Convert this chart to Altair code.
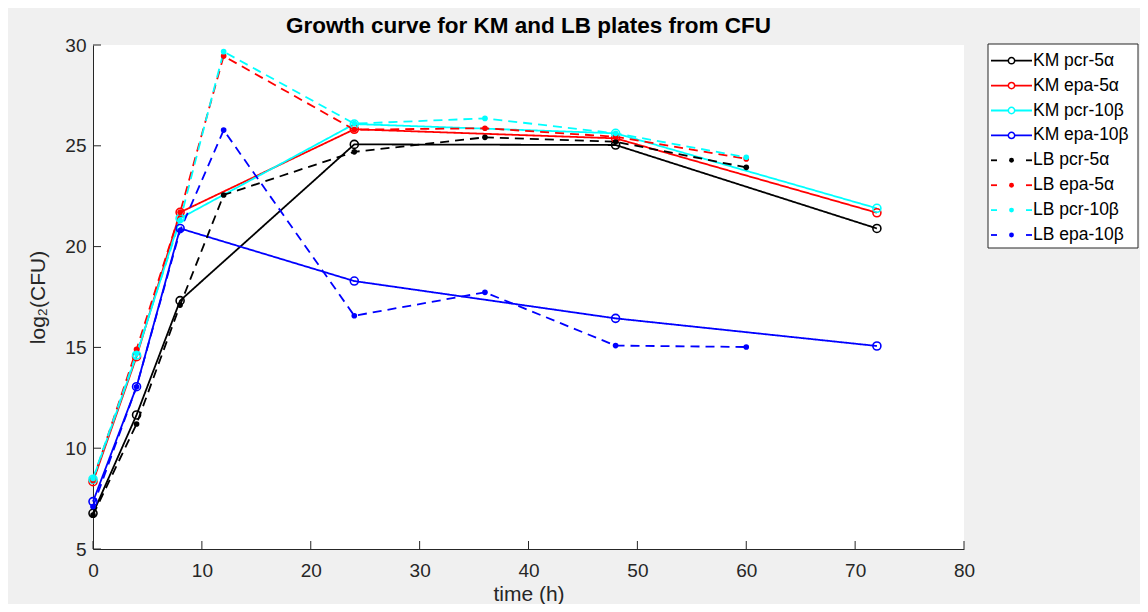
import altair as alt
import pandas as pd

# ---- data ----
km_times = [0, 4, 8, 24, 48, 72]
lb_times = [0, 4, 8, 12, 24, 36, 48, 60]

km_pcr_5a = [6.77, 11.65, 17.32, 25.07, 25.04, 20.90]
km_epa_5a = [8.34, 14.54, 21.70, 25.82, 25.37, 21.68]
km_pcr_10b = [8.46, 14.62, 21.40, 26.08, 25.62, 21.90]
km_epa_10b = [7.35, 13.05, 20.90, 18.29, 16.44, 15.07]

lb_pcr_5a = [6.68, 11.20, 17.10, 22.56, 24.70, 25.42, 25.20, 23.93]
lb_epa_5a = [8.40, 14.90, 21.70, 29.45, 25.80, 25.87, 25.45, 24.35]
lb_pcr_10b = [8.50, 14.70, 21.30, 29.67, 26.10, 26.36, 25.62, 24.43]
lb_epa_10b = [7.10, 13.05, 20.80, 25.78, 16.57, 17.73, 15.09, 15.02]

series_names = ["KM pcr-5α", "KM epa-5α", "KM pcr-10β", "KM epa-10β",
                "LB pcr-5α", "LB epa-5α", "LB pcr-10β", "LB epa-10β"]
series_media = ["KM", "KM", "KM", "KM", "LB", "LB", "LB", "LB"]
series_colors = ["#000000", "#ff0000", "#00ffff", "#0000ff",
                 "#000000", "#ff0000", "#00ffff", "#0000ff"]
x_ticks = [0, 10, 20, 30, 40, 50, 60, 70, 80]
y_ticks = [5, 10, 15, 20, 25, 30]

km_values = [km_pcr_5a, km_epa_5a, km_pcr_10b, km_epa_10b]
lb_values = [lb_pcr_5a, lb_epa_5a, lb_pcr_10b, lb_epa_10b]

rows = []
for name, vals in zip(series_names[:4], km_values):
    for t, v in zip(km_times, vals):
        rows.append({"series": name, "medium": "KM", "time": t, "value": v})
for name, vals in zip(series_names[4:], lb_values):
    for t, v in zip(lb_times, vals):
        rows.append({"series": name, "medium": "LB", "time": t, "value": v})
df = pd.DataFrame(rows)
legend_df = pd.DataFrame({"series": series_names, "medium": series_media})

FONT = "Liberation Sans"
AX = "#262626"
W, H = 871, 504

x_axis = alt.Axis(title="time (h)", values=x_ticks, grid=False, ticks=False,
                  domainColor=AX, domainWidth=1, labelFont=FONT, labelFontSize=19,
                  labelColor=AX, labelPadding=27, labelBaseline="alphabetic",
                  labelFlush=False, labelOverlap=False,
                  titleFont=FONT, titleFontSize=21, titleFontWeight="normal",
                  titleColor=AX, titleBaseline="alphabetic", titleX=W / 2, titleY=51)
y_axis = alt.Axis(title="log₂(CFU)", values=y_ticks, grid=False, ticks=False,
                  domainColor=AX, domainWidth=1, labelFont=FONT, labelFontSize=19,
                  labelColor=AX, labelPadding=7, labelBaseline="middle",
                  labelFlush=False, labelOverlap=False,
                  titleFont=FONT, titleFontSize=21, titleFontWeight="normal",
                  titleColor=AX, titleBaseline="alphabetic", titleX=-49, titleY=H / 2)

x_scale = alt.Scale(domain=[0, 80], nice=False, zero=False)
y_scale = alt.Scale(domain=[5, 30], nice=False, zero=False)
x_enc = alt.X("time:Q", scale=x_scale, axis=x_axis)
y_enc = alt.Y("value:Q", scale=y_scale, axis=y_axis)

color_scale = alt.Scale(domain=series_names, range=series_colors)
color_enc = alt.Color("series:N", scale=color_scale, legend=None)
dash_scale = alt.Scale(domain=series_names, range=[[1, 0]] * 4 + [[9, 6]] * 4)

lines = alt.Chart(df).mark_line(strokeWidth=1.8).encode(
    x=x_enc, y=y_enc, color=color_enc,
    strokeDash=alt.StrokeDash("series:N", scale=dash_scale, legend=None),
)
km_points = alt.Chart(df).transform_filter(alt.datum.medium == "KM").mark_point(
    filled=False, size=64, strokeWidth=1.6, opacity=1
).encode(x=x_enc, y=y_enc, color=color_enc)
lb_points = alt.Chart(df).transform_filter(alt.datum.medium == "LB").mark_circle(
    size=32, opacity=1
).encode(x=x_enc, y=y_enc, color=color_enc)

# inward tick marks (MATLAB style)
ytick_rules = alt.Chart(pd.DataFrame({"value": y_ticks})).mark_rule(
    color=AX, strokeWidth=1
).encode(y=y_enc, x=alt.value(0), x2=alt.value(8))
xtick_rules = alt.Chart(pd.DataFrame({"time": x_ticks})).mark_rule(
    color=AX, strokeWidth=1
).encode(x=x_enc, y=alt.value(H), y2=alt.value(H - 8))

main = alt.layer(lines, km_points, lb_points, ytick_rules, xtick_rules)

# ---- legend box (MATLAB style: line + marker + label) ----
ly = alt.Y("series:N", axis=None,
           scale=alt.Scale(type="point", domain=series_names, range=[15.7, 190], padding=0))
L0, L1, LM, LT = 898, 939, 918.5, 940

box = alt.Chart(legend_df.head(1)).mark_rect(fill="#ffffff", stroke=AX, strokeWidth=1).encode(
    x=alt.value(895), x2=alt.value(1045), y=alt.value(-1), y2=alt.value(203))
km_leg = legend_df[legend_df.medium == "KM"]
lb_leg = legend_df[legend_df.medium == "LB"]
km_seg = alt.Chart(km_leg).mark_rule(strokeWidth=1.8).encode(
    x=alt.value(L0), x2=alt.value(L1), y=ly, color=color_enc)
km_mark = alt.Chart(km_leg).mark_point(filled=False, fill="#ffffff", size=40,
                                       strokeWidth=1.5, opacity=1).encode(
    x=alt.value(LM), y=ly, color=color_enc)
lb_seg1 = alt.Chart(lb_leg).mark_rule(strokeWidth=1.8).encode(
    x=alt.value(L0), x2=alt.value(L0 + 6), y=ly, color=color_enc)
lb_seg2 = alt.Chart(lb_leg).mark_rule(strokeWidth=1.8).encode(
    x=alt.value(L1 - 6), x2=alt.value(L1), y=ly, color=color_enc)
lb_dot = alt.Chart(lb_leg).mark_circle(size=24, opacity=1).encode(
    x=alt.value(LM), y=ly, color=color_enc)
labels = alt.Chart(legend_df).mark_text(align="left", baseline="middle", font=FONT,
                                        fontSize=17.5, color="#000000").encode(
    x=alt.value(LT), y=ly, text="series:N")

legend_group = alt.layer(box, km_seg, km_mark, lb_seg1, lb_seg2, lb_dot, labels)

chart = alt.layer(main, legend_group).resolve_scale(y="independent").properties(
    width=W, height=H,
    title=alt.TitleParams(text="Growth curve for KM and LB plates from CFU", font=FONT,
                          fontSize=22.5, fontWeight="bold", color="#000000",
                          anchor="middle", frame="group", offset=4, dy=5),
    background="#f0f0f0",
    padding={"left": 85, "top": 37, "right": 176, "bottom": 55},
    autosize=alt.AutoSizeParams(type="none"),
).configure_view(fill="#ffffff", stroke=None)

chart.save("out.html", embed_options={"renderer": "svg", "actions": False})
